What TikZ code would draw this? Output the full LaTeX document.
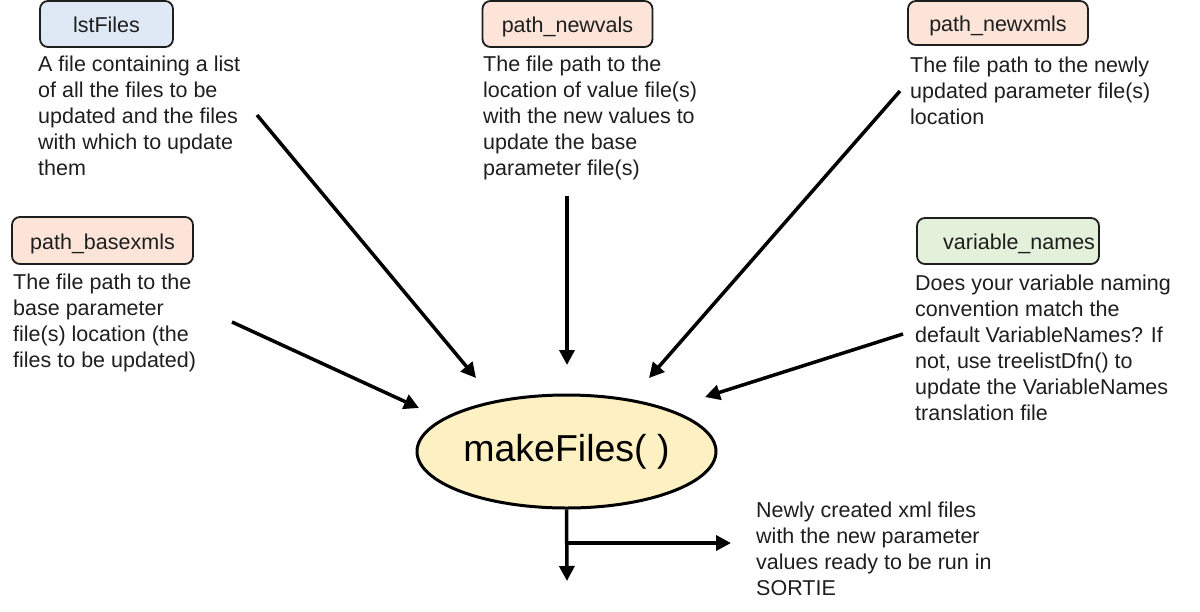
\documentclass[tikz,border=0pt]{standalone}
\usepackage{fontspec}
\setmainfont{Liberation Sans}
\usetikzlibrary{arrows.meta,shapes.geometric}
\definecolor{cblue}{HTML}{DFE9F5}
\definecolor{cpeach}{HTML}{FCE5D8}
\definecolor{cgreen}{HTML}{E3F0DA}
\definecolor{cyell}{HTML}{FDF1C4}
\definecolor{cline}{HTML}{1E1E1E}
\tikzset{
  lbox/.style={draw=cline, line width=1.8pt, rounded corners=8pt, inner sep=0pt,
    text height=17pt, text depth=0pt,
    font=\fontsize{21.5}{26}\selectfont, text=cline},
  para/.style={anchor=north west, inner sep=0pt, align=left,
    font=\fontsize{21.5}{26}\selectfont, text=cline},
  arr/.style={line width=3.5pt, draw=black, -{Triangle[length=15pt,width=15pt]}},
  plain/.style={line width=3.5pt, draw=black}
}
\begin{document}
\begin{tikzpicture}[x=1pt,y=-1pt]
\useasboundingbox (0,0) rectangle (1200,611);
% boxes
\node[lbox, fill=cblue, minimum width=133pt, minimum height=46pt] (lst) at (106.5,24) {lstFiles};
\node[lbox, fill=cpeach, minimum width=170pt, minimum height=46pt] (nv) at (567.5,24) {path\_newvals};
\node[lbox, fill=cpeach, minimum width=180pt, minimum height=44pt] (nx) at (998,23) {path\_newxmls};
\node[lbox, fill=cpeach, minimum width=181pt, minimum height=47pt] (bx) at (102.5,240.5) {path\_basexmls};
\node[lbox, fill=cgreen, minimum height=46pt, text width=174pt, inner xsep=4pt, align=right] (vn) at (1008,241) {variable\_names};
% paragraphs
\node[para] (lstT) at (38,55.5) {A file containing a list\\of all the files to be\\updated and the files\\with which to update\\them};
\node[para] (nvT) at (483,55.5) {The file path to the\\location of value file(s)\\with the new values to\\update the base\\parameter file(s)};
\node[para] (nxT) at (910,56.5) {The file path to the newly\\updated parameter file(s)\\location};
\node[para] (bxT) at (13,273.5) {The file path to the\\base parameter\\file(s) location (the\\files to be updated)};
\node[para] (vnT) at (915,274.5) {Does your variable naming\\convention match the\\default VariableNames? If\\not, use treelistDfn() to\\update the VariableNames\\translation file};
\node[para] (outT) at (756,501.5) {Newly created xml files\\with the new parameter\\values ready to be run in\\SORTIE};
% central ellipse
\node[ellipse, draw=black, line width=3pt, fill=cyell, minimum width=299pt, minimum height=113pt,
  inner sep=0pt, font=\fontsize{37.5}{44}\selectfont] (mk) at (566.5,451.5) {makeFiles( )};
% connector coordinates
\coordinate (s1) at (257,115);
\coordinate (e1) at (476,378);
\coordinate (s2) at (567,196);
\coordinate (e2) at (567,365);
\coordinate (s3) at (900,91);
\coordinate (e3) at (649,378);
\coordinate (s4) at (232,322);
\coordinate (e4) at (419,408);
\coordinate (s5) at (903,334);
\coordinate (e5) at (705,397);
\coordinate (down) at (567,581);
\coordinate (junc) at (567,543);
\coordinate (right) at (731,543);
\draw[arr] (s1) -- (e1);
\draw[arr] (s2) -- (e2);
\draw[arr] (s3) -- (e3);
\draw[arr] (s4) -- (e4);
\draw[arr] (s5) -- (e5);
\draw[arr] (mk.south) -- (down);
\draw[arr] (junc) -- (right);
\end{tikzpicture}
\end{document}
